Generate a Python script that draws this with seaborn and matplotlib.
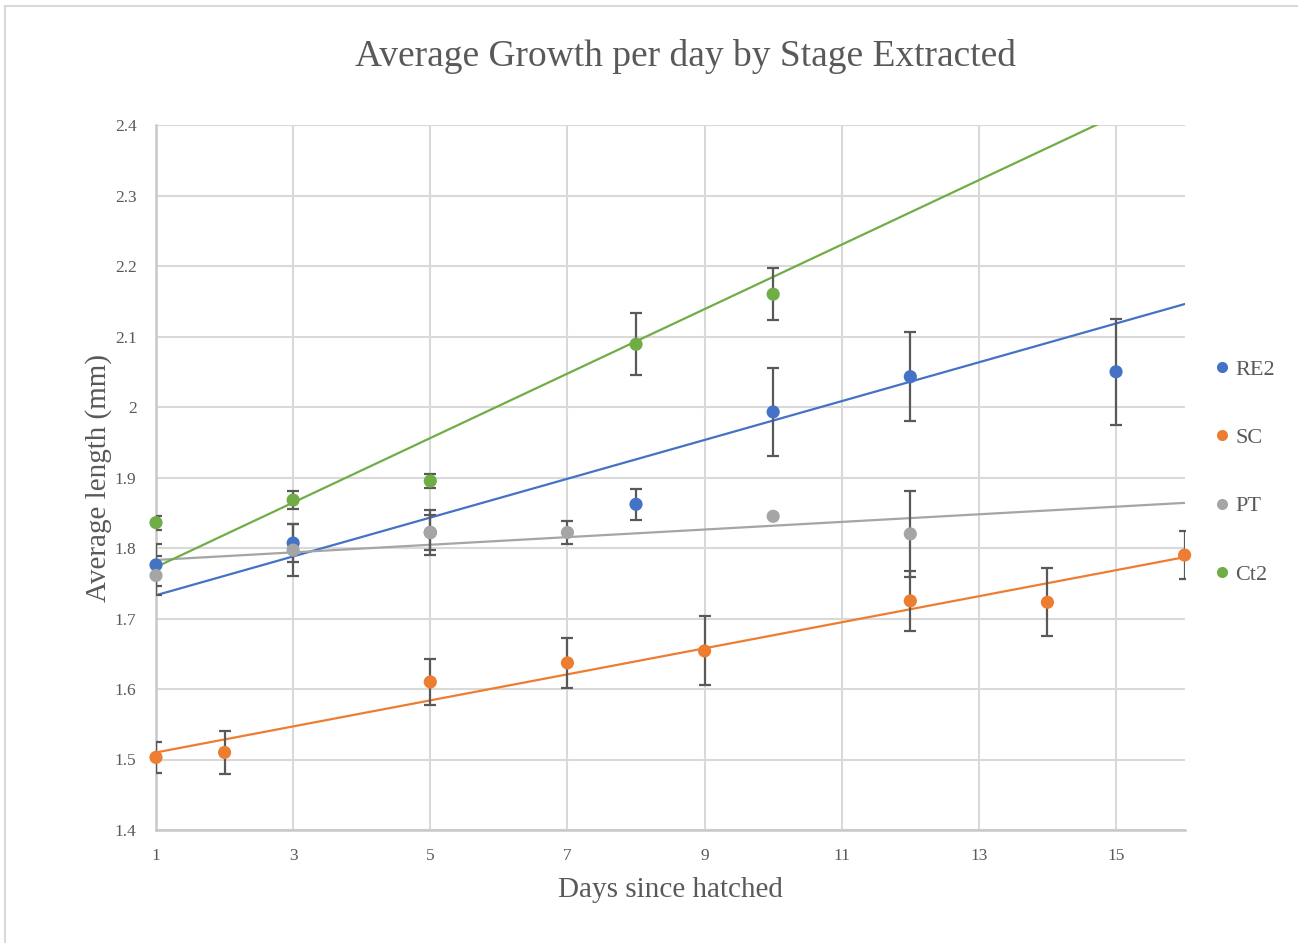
import numpy as np
import pandas as pd
import matplotlib
matplotlib.use("Agg")
import matplotlib.pyplot as plt
from matplotlib.lines import Line2D
from matplotlib.ticker import FuncFormatter
import seaborn as sns

# data
series = ["RE2", "SC", "PT", "Ct2"]
colors = ["#4472C4", "#ED7D31", "#A5A5A5", "#70AD47"]

re2_day = [1, 3, 5, 8, 10, 12, 15]
re2_len = [1.776, 1.807, 1.822, 1.862, 1.993, 2.043, 2.050]
re2_err = [0.030, 0.027, 0.025, 0.022, 0.063, 0.063, 0.075]

sc_day = [1, 2, 5, 7, 9, 12, 14, 16]
sc_len = [1.503, 1.510, 1.610, 1.637, 1.654, 1.725, 1.723, 1.790]
sc_err = [0.022, 0.030, 0.033, 0.035, 0.049, 0.043, 0.048, 0.034]

pt_day = [1, 3, 5, 7, 10, 12]
pt_len = [1.761, 1.797, 1.822, 1.822, 1.845, 1.820]
pt_err = [0.027, 0.037, 0.032, 0.017, 0.0, 0.061]

ct2_day = [1, 3, 5, 8, 10]
ct2_len = [1.836, 1.868, 1.895, 2.089, 2.160]
ct2_err = [0.010, 0.013, 0.010, 0.044, 0.037]

# linear trendlines (values at day 1 and day 16)
trend_day = [1, 16]
re2_trend = [1.733, 2.146]
sc_trend = [1.510, 1.787]
pt_trend = [1.783, 1.864]
ct2_trend = [1.773, 2.459]

days = [re2_day, sc_day, pt_day, ct2_day]
lens = [re2_len, sc_len, pt_len, ct2_len]
errs = [re2_err, sc_err, pt_err, ct2_err]
trends = [re2_trend, sc_trend, pt_trend, ct2_trend]

pts = pd.concat([pd.DataFrame({"day": d, "length": l, "err": e, "stage": s})
                 for d, l, e, s in zip(days, lens, errs, series)], ignore_index=True)
tr = pd.concat([pd.DataFrame({"day": trend_day, "length": t, "stage": s})
                for t, s in zip(trends, series)], ignore_index=True)

sns.set_style("white")
plt.rcParams["font.family"] = ["Liberation Serif", "DejaVu Serif"]
txt = "#595959"

fig = plt.figure(figsize=(12.98, 9.43), dpi=100)
ax = fig.add_axes([156 / 1298, 1 - 830 / 943, (1184.6 - 156) / 1298, 705 / 943])

pal = dict(zip(series, colors))
sns.lineplot(data=tr, x="day", y="length", hue="stage", palette=pal,
             linewidth=1.6, legend=False, ax=ax, zorder=2)

for s in series:
    sub = pts[pts.stage == s]
    ax.errorbar(sub.day, sub.length, yerr=sub.err, fmt="none", ecolor="#595959",
                elinewidth=1.6, capsize=4.5, capthick=1.6, zorder=3)

sns.scatterplot(data=pts, x="day", y="length", hue="stage", palette=pal, s=90,
                edgecolor="none", legend=False, ax=ax, zorder=4, clip_on=False)

ax.set_xlim(1, 16)
ax.set_ylim(1.4, 2.4)
ax.set_xticks(np.arange(1, 16, 2))
ax.set_yticks(np.arange(1.4, 2.41, 0.1))
ax.yaxis.set_major_formatter(FuncFormatter(lambda v, p: f"{round(v, 1):g}"))
ax.grid(True, color="#D9D9D9", linewidth=1.5)
ax.tick_params(length=0, labelsize=12.5, labelcolor=txt)
ax.tick_params(axis="x", pad=13)
ax.tick_params(axis="y", pad=14)
for side in ["top", "right"]:
    ax.spines[side].set_visible(False)
for side in ["left", "bottom"]:
    ax.spines[side].set_color("#C8C8C8")
    ax.spines[side].set_linewidth(1.8)

ax.set_xlabel("Days since hatched", fontsize=21, color=txt, labelpad=9)
ax.set_ylabel("Average length (mm)", fontsize=21, color=txt, labelpad=2)
fig.text(0.5285, 0.940, "Average Growth per day by Stage Extracted",
         fontsize=27, color=txt, ha="center", va="center")

handles = [Line2D([], [], linestyle="none", marker="o", markersize=8,
                  markerfacecolor=c, markeredgecolor="none") for c in colors]
fig.legend(handles, series, loc="center left", bbox_to_anchor=(0.921, 0.4995),
           frameon=False, fontsize=16, labelspacing=2.15, handlelength=0.6,
           handletextpad=0.3, labelcolor=txt)

# chart area border (top and left edges visible)
fig.add_artist(Line2D([5 / 1298, 1], [1 - 6 / 943] * 2, color="#D9D9D9", linewidth=1.5,
                      transform=fig.transFigure))
fig.add_artist(Line2D([5 / 1298] * 2, [0, 1 - 6 / 943], color="#D9D9D9", linewidth=1.5,
                      transform=fig.transFigure))

fig.savefig("out.png", dpi=100, facecolor="white")
